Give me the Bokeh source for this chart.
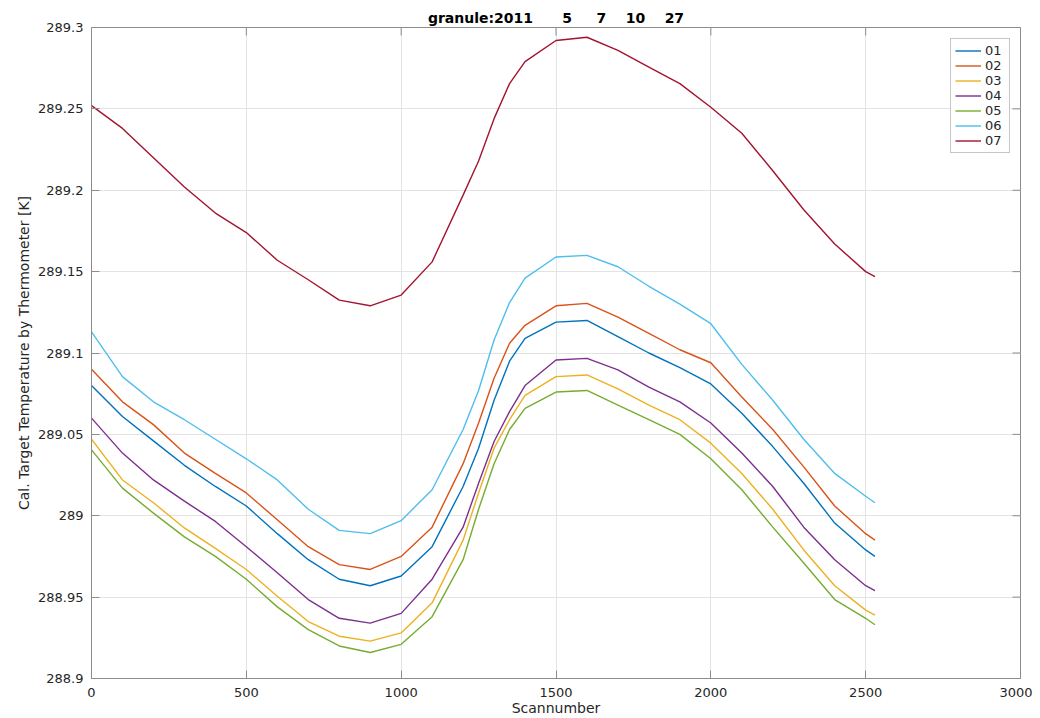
from bokeh.plotting import figure
from bokeh.embed import file_html
from bokeh.resources import INLINE
from bokeh.models import (Range1d, FixedTicker, PrintfTickFormatter, Legend, LegendItem)

scans = [0, 100, 200, 300, 400, 500, 600, 700, 800, 900, 1000, 1100, 1200, 1250,
         1300, 1350, 1400, 1500, 1600, 1700, 1800, 1900, 2000, 2100, 2200, 2300,
         2400, 2500, 2530]

t01 = [289.080, 289.061, 289.046, 289.031, 289.018, 289.006, 288.989, 288.973, 288.961,
       288.957, 288.963, 288.981, 289.018, 289.0415, 289.071, 289.095, 289.109, 289.119,
       289.120, 289.110, 289.100, 289.091, 289.081, 289.063, 289.0425, 289.020, 288.9955,
       288.979, 288.975]
t02 = [289.090, 289.070, 289.056, 289.0385, 289.026, 289.014, 288.9975, 288.981, 288.970,
       288.967, 288.975, 288.993, 289.032, 289.057, 289.0845, 289.106, 289.117, 289.129,
       289.1305, 289.122, 289.112, 289.102, 289.094, 289.073, 289.053, 289.030, 289.006,
       288.989, 288.985]
t03 = [289.047, 289.022, 289.008, 288.9925, 288.980, 288.967, 288.9505, 288.935, 288.926,
       288.923, 288.928, 288.9465, 288.985, 289.014, 289.0415, 289.059, 289.074, 289.0855,
       289.0865, 289.078, 289.068, 289.059, 289.0446, 289.026, 289.004, 288.979, 288.957,
       288.942, 288.939]
t04 = [289.060, 289.0385, 289.022, 289.009, 288.9965, 288.981, 288.965, 288.9485, 288.937,
       288.934, 288.940, 288.961, 288.993, 289.020, 289.0456, 289.064, 289.080, 289.0957,
       289.0967, 289.0896, 289.079, 289.070, 289.057, 289.0385, 289.018, 288.993, 288.973,
       288.957, 288.954]
t05 = [289.0405, 289.017, 289.0016, 288.987, 288.975, 288.961, 288.944, 288.930, 288.920,
       288.916, 288.921, 288.938, 288.973, 289.004, 289.032, 289.053, 289.066, 289.076,
       289.077, 289.068, 289.059, 289.050, 289.035, 289.016, 288.993, 288.971, 288.9485,
       288.937, 288.933]
t06 = [289.113, 289.0855, 289.070, 289.059, 289.047, 289.035, 289.022, 289.004, 288.991,
       288.989, 288.997, 289.016, 289.053, 289.077, 289.108, 289.131, 289.146, 289.159,
       289.160, 289.153, 289.141, 289.130, 289.118, 289.093, 289.071, 289.047, 289.026,
       289.012, 289.008]
t07 = [289.252, 289.238, 289.220, 289.202, 289.186, 289.174, 289.157, 289.145, 289.1325,
       289.129, 289.1356, 289.156, 289.197, 289.218, 289.244, 289.2655, 289.279, 289.292,
       289.294, 289.286, 289.2757, 289.2655, 289.251, 289.235, 289.212, 289.188, 289.167,
       289.150, 289.147]

series_names = ["01", "02", "03", "04", "05", "06", "07"]
series_values = [t01, t02, t03, t04, t05, t06, t07]
colors = ["#0072BD", "#D95319", "#EDB120", "#7E2F8E", "#77AC30", "#4DBEEE", "#A2142F"]

x_ticks = [0, 500, 1000, 1500, 2000, 2500, 3000]
y_ticks = [288.9, 288.95, 289.0, 289.05, 289.1, 289.15, 289.2, 289.25, 289.3]

# MATLAB num2str spacing kept with non-breaking spaces so SVG does not collapse it
NB = "\u00a0"
title_text = ("granule:2011" + NB * 5 + " 5" + NB * 4 + " 7" + NB * 3 + " 10"
              + NB * 3 + " 27")
x_label = "Scannumber"
y_label = "Cal. Target Temperature by Thermometer [K]"

FONT = "DejaVu Sans"
AX = "#262626"
FRAME = "#8c8c8c"
X0, X1 = 0, 3000
Y0, Y1 = 288.9, 289.3
FW, FH = 929, 651
TICK_PX = 8

p = figure(frame_width=FW, frame_height=FH, output_backend="svg", toolbar_location=None,
           x_range=Range1d(X0, X1), y_range=Range1d(Y0, Y1),
           min_border_left=91, min_border_right=12, min_border_top=27, min_border_bottom=0,
           background_fill_color="white", border_fill_color="white")

p.title.text = title_text
p.title.align = "center"
p.title.text_font = FONT
p.title.text_font_size = "14px"
p.title.text_font_style = "bold"
p.title.text_color = "black"
p.title.standoff = 4
p.title.offset = 0

p.outline_line_color = FRAME
p.outline_line_width = 1

for ax in [p.xaxis[0], p.yaxis[0]]:
    ax.major_label_text_font = FONT
    ax.major_label_text_font_size = "13px"
    ax.major_label_text_color = AX
    ax.axis_label_text_font = FONT
    ax.axis_label_text_font_size = "14px"
    ax.axis_label_text_font_style = "normal"
    ax.axis_label_text_color = AX
    ax.axis_line_color = FRAME
    ax.major_tick_line_color = FRAME
    ax.major_tick_in = TICK_PX
    ax.major_tick_out = 0
    ax.minor_tick_in = 0
    ax.minor_tick_out = 0
    ax.formatter = PrintfTickFormatter(format="%g")

p.xaxis[0].ticker = FixedTicker(ticks=x_ticks)
p.yaxis[0].ticker = FixedTicker(ticks=y_ticks)
p.xaxis[0].axis_label = x_label
p.yaxis[0].axis_label = y_label
p.xaxis[0].major_label_standoff = 9
p.xaxis[0].axis_label_standoff = 0
p.yaxis[0].major_label_standoff = 8
p.yaxis[0].axis_label_standoff = 3

p.xgrid.ticker = FixedTicker(ticks=x_ticks)
p.ygrid.ticker = FixedTicker(ticks=y_ticks)
p.grid.grid_line_color = "#e3e3e3"
p.grid.grid_line_width = 1

# inward ticks on the top and right edges (box style axes)
dx = TICK_PX * (X1 - X0) / FW
dy = TICK_PX * (Y1 - Y0) / FH
p.segment(x0=x_ticks, y0=[Y1] * len(x_ticks), x1=x_ticks, y1=[Y1 - dy] * len(x_ticks),
          line_color=FRAME, line_width=1)
p.segment(x0=[X1] * len(y_ticks), y0=y_ticks, x1=[X1 - dx] * len(y_ticks), y1=y_ticks,
          line_color=FRAME, line_width=1)

items = []
for name, vals, c in zip(series_names, series_values, colors):
    r = p.line(scans, vals, line_color=c, line_width=1.4)
    items.append(LegendItem(label=name, renderers=[r]))

legend = Legend(items=items, location=(859, 525), orientation="vertical",
                label_text_font=FONT, label_text_font_size="13px", label_text_color=AX,
                glyph_width=26, glyph_height=15, label_height=15, spacing=0,
                padding=4, margin=0, label_standoff=4,
                border_line_color=FRAME, border_line_width=1,
                background_fill_color="white", background_fill_alpha=1)
p.add_layout(legend, "center")

open("out.html", "w").write(file_html(p, INLINE))
